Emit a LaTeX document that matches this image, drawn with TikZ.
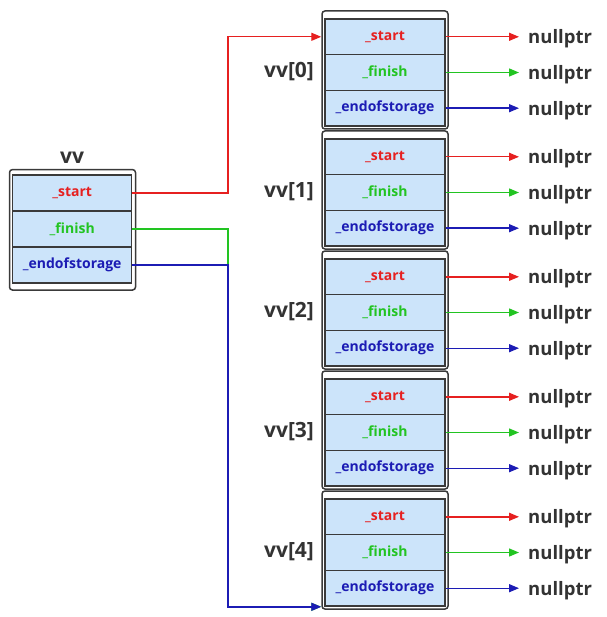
\documentclass[tikz,border=0pt]{standalone}
\usepackage{fontspec}
\setmainfont{Open Sans}
\usetikzlibrary{arrows.meta}
\definecolor{cellfill}{HTML}{CCE4FA}
\definecolor{edgecolor}{HTML}{3A3A3A}
\definecolor{startcolor}{HTML}{E62020}
\definecolor{finishcolor}{HTML}{22C422}
\definecolor{endcolor}{HTML}{1C1CB4}
\definecolor{textcolor}{HTML}{333333}

\tikzset{
  outerbox/.style={draw=edgecolor, fill=white, line width=1.5pt, rounded corners=3pt,
    minimum width=126pt, minimum height=118pt, inner sep=0pt},
  cell/.style={draw=edgecolor, fill=cellfill, line width=1.5pt, minimum width=120pt,
    minimum height=35.7pt, inner sep=0pt, font=\bfseries\fontsize{14}{16}\selectfont},
  title/.style={text=textcolor, inner sep=0pt, font=\bfseries\fontsize{21}{24}\selectfont},
  nullnode/.style={text=textcolor, anchor=west, inner xsep=9pt, inner ysep=0pt,
    font=\bfseries\fontsize{18.5}{21}\selectfont},
  ptr/.style={line width=1.4pt, -{Triangle[length=10pt,width=8pt]}},
}

\begin{document}
\begin{tikzpicture}[x=1pt, y=-1pt]
    \useasboundingbox (0,0) rectangle (606,617);

% Vector vv
    % Rectangle
    \node[outerbox, minimum width=126pt, minimum height=120.5pt] (vv) at (72.5,229.8) {};
    \node[title] (vvname) at (72,158) {vv};

    % Members of vv
    \node[cell, minimum width=119pt, minimum height=35.9pt, text=startcolor] (vv-s) at (72.2,193) {\_start};
    \node[cell, minimum width=119pt, minimum height=35.9pt, text=finishcolor] (vv-f) at (72.2,228.9) {\_finish};
    \node[cell, minimum width=119pt, minimum height=35.9pt, text=endcolor] (vv-e) at (72.2,264.8) {\_endofstorage};

% Elements vv[0] ... vv[4]
    \foreach \k in {0,...,4} {
        % Rectangle
        \node[outerbox] (blk\k) at (385,{70+120*\k}) {};
        \node[title] (lbl\k) at (289,{72+120*\k}) {vv[\k]};

        % Members
        \node[cell, text=startcolor] (c\k-s) at (385,{36.8+120*\k}) {\_start};
        \node[cell, text=finishcolor] (c\k-f) at (385,{72.5+120*\k}) {\_finish};
        \node[cell, text=endcolor] (c\k-e) at (385,{108.2+120*\k}) {\_endofstorage};

        % nullptr targets
        \node[nullnode] (ns\k) at (519,{39+120*\k}) {nullptr};
        \node[nullnode] (nf\k) at (519,{75+120*\k}) {nullptr};
        \node[nullnode] (ne\k) at (519,{110.5+120*\k}) {nullptr};

        % Arrows to nullptr
        \draw[ptr, startcolor] (c\k-s.east) -- (c\k-s.east -| ns\k.west);
        \draw[ptr, finishcolor] (c\k-f.east) -- (c\k-f.east -| nf\k.west);
        \draw[ptr, endcolor] (c\k-e.east) -- (c\k-e.east -| ne\k.west);
    }

% Arrows from vv to its elements
    \coordinate (bus) at (228,0);
    \draw[ptr, startcolor] (vv-s.east) -- (vv-s.east -| bus) |- (c0-s.west -| blk0.west);
    \draw[ptr, finishcolor] (vv-f.east) -- (vv-f.east -| bus) |- (c4-e.south -| blk4.west);
    \draw[ptr, endcolor] (vv-e.east) -- (vv-e.east -| bus) |- (c4-e.south -| blk4.west);

\end{tikzpicture}
\end{document}
